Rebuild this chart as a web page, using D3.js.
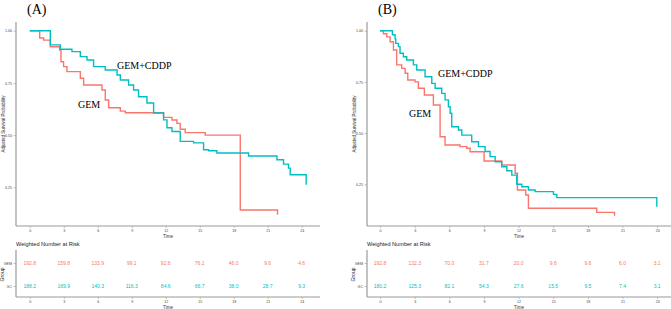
<!DOCTYPE html>
<html>
<head>
<meta charset="utf-8">
<script src="https://cdn.jsdelivr.net/npm/d3@7"></script>
<style>
  body { margin: 0; background: #fff; }
  svg { display: block; }
</style>
</head>
<body>
<div id="chart"></div>
<script>
// Panel A survival curves (time in months, adjusted survival)
const timeA_gc  = [0, 1.81, 2.69, 3.72, 4.46, 5.05, 5.63, 6.66, 7.70, 7.99, 8.72, 9.16, 9.60, 10.34, 10.93, 11.81, 12.11, 12.55, 13.28, 14.46, 15.34, 15.78, 16.52, 19.31, 21.82, 22.40, 22.84, 22.99, 24.40];
const survA_gc  = [1.0, 0.932, 0.911, 0.90, 0.876, 0.86, 0.828, 0.812, 0.788, 0.764, 0.74, 0.716, 0.684, 0.654, 0.606, 0.573, 0.535, 0.517, 0.47, 0.463, 0.43, 0.425, 0.414, 0.40, 0.382, 0.361, 0.342, 0.31, 0.262];
const timeA_gem = [0, 0.87, 1.22, 1.81, 2.63, 2.75, 2.98, 3.28, 4.46, 4.75, 6.37, 6.66, 6.96, 7.99, 8.43, 11.81, 12.55, 12.99, 13.28, 13.72, 15.49, 18.58, 21.87];
const survA_gem = [1.0, 0.965, 0.955, 0.923, 0.907, 0.851, 0.828, 0.804, 0.772, 0.74, 0.716, 0.668, 0.631, 0.615, 0.607, 0.585, 0.572, 0.556, 0.528, 0.512, 0.50, 0.141, 0.118];

// Panel B survival curves
const timeB_gc  = [0, 1.07, 1.30, 1.36, 1.59, 1.73, 2.02, 2.31, 2.89, 3.18, 3.90, 4.48, 4.77, 5.34, 5.63, 5.92, 6.07, 6.21, 6.79, 7.08, 7.94, 8.52, 9.10, 9.53, 9.97, 10.54, 10.98, 11.41, 11.84, 12.28, 12.85, 13.43, 15.02, 15.31, 23.97];
const survB_gc  = [1.0, 0.98, 0.96, 0.938, 0.922, 0.89, 0.873, 0.857, 0.833, 0.808, 0.775, 0.743, 0.719, 0.694, 0.662, 0.629, 0.597, 0.531, 0.515, 0.49, 0.458, 0.434, 0.41, 0.385, 0.36, 0.336, 0.316, 0.295, 0.25, 0.238, 0.222, 0.214, 0.201, 0.185, 0.14];
const timeB_gem = [0, 0.29, 0.58, 0.87, 1.16, 1.44, 1.88, 2.17, 2.40, 3.03, 3.32, 3.84, 4.62, 5.20, 5.63, 6.93, 7.51, 7.80, 9.01, 10.54, 11.70, 11.90, 12.62, 12.85, 18.77, 20.31];
const survB_gem = [1.0, 0.985, 0.97, 0.946, 0.906, 0.833, 0.816, 0.792, 0.759, 0.75, 0.719, 0.686, 0.637, 0.482, 0.442, 0.434, 0.426, 0.409, 0.364, 0.344, 0.304, 0.222, 0.198, 0.133, 0.113, 0.097];

// Weighted number at risk table
const riskTimes = [0, 3, 6, 9, 12, 15, 18, 21, 24];
const groups = ["GEM", "GC"];
const riskA_gem = ["192.8", "159.8", "133.9", "99.1", "92.6", "76.1", "46.0", "9.6", "4.6"];
const riskA_gc  = ["188.2", "169.9", "140.3", "116.3", "84.6", "66.7", "38.0", "28.7", "9.3"];
const riskB_gem = ["192.8", "132.3", "70.0", "31.7", "20.0", "9.6", "9.6", "6.0", "3.1"];
const riskB_gc  = ["180.2", "125.3", "82.1", "54.3", "27.6", "15.5", "9.5", "7.4", "3.1"];
const yTicks = [0.25, 0.50, 0.75, 1.00];

const colGem = "#F8766D", colGc = "#00BFC4", axisCol = "#9a9a9a";
const W = 671, H = 309;

const svg = d3.select("#chart").append("svg")
  .attr("width", W).attr("height", H)
  .style("font-family", "'Liberation Sans', Arial, sans-serif");

function panel(p) {
  const g = svg.append("g");
  const x = d3.scaleLinear().domain(p.xDomain).range([p.left, p.right]);
  const y = d3.scaleLinear().domain([0.25, 1]).range([p.y025, p.y100]);

  // panel letter
  g.append("text").attr("x", p.left + 11).attr("y", 14)
    .style("font-family", "'Liberation Serif', 'Times New Roman', serif")
    .style("font-size", "14px").text(p.tag);

  // survival axes
  const yAx = g.append("g").attr("transform", `translate(${p.left},0)`)
    .call(d3.axisLeft(y).tickValues(yTicks).tickFormat(d3.format(".2f")).tickSize(2.5).tickPadding(1.5));
  const xAx = g.append("g").attr("transform", `translate(0,${p.bottom})`)
    .call(d3.axisBottom(x).tickValues(riskTimes).tickSize(2).tickPadding(1));
  [yAx, xAx].forEach(a => {
    a.select(".domain").remove();
    a.selectAll("line").attr("stroke", axisCol).attr("stroke-width", 0.6);
    a.selectAll("text").attr("fill", "#444").style("font-size", "3.6px");
  });
  g.append("line").attr("x1", p.left).attr("x2", p.left).attr("y1", p.top).attr("y2", p.bottom)
    .attr("stroke", axisCol).attr("stroke-width", 1.2);
  g.append("line").attr("x1", p.left).attr("x2", p.right).attr("y1", p.bottom).attr("y2", p.bottom)
    .attr("stroke", axisCol).attr("stroke-width", 1.2);
  g.append("text").attr("x", (p.left + p.right) / 2).attr("y", p.bottom + 11.5)
    .attr("text-anchor", "middle").style("font-size", "4.5px").attr("fill", "#333").text("Time");
  g.append("text").attr("transform", `translate(${p.left - 11},${(p.top + p.bottom) / 2}) rotate(-90)`)
    .attr("text-anchor", "middle").style("font-size", "4.5px").attr("fill", "#333")
    .text("Adjusted Survival Probability");

  // step curves
  const line = d3.line().curve(d3.curveStepAfter).x(d => x(d[0])).y(d => y(d[1]));
  [[p.tGem, p.sGem, colGem], [p.tGc, p.sGc, colGc]].forEach(([t, s, c]) => {
    g.append("path").datum(d3.zip(t, s))
      .attr("fill", "none").attr("stroke", c).attr("stroke-width", 1.4)
      .attr("d", line);
  });

  // curve labels
  const serif = "'Liberation Serif', 'Times New Roman', serif";
  g.append("text").attr("x", p.lab1[0]).attr("y", p.lab1[1])
    .style("font-family", serif).style("font-size", "10px").text("GEM+CDDP");
  g.append("text").attr("x", p.lab2[0]).attr("y", p.lab2[1])
    .style("font-family", serif).style("font-size", "10px").text("GEM");

  // risk table
  const rt = 250, rb = 297;
  const ry = d3.scalePoint().domain(groups).range([263, 286]);
  g.append("text").attr("x", p.left).attr("y", 246)
    .style("font-size", "5.6px").attr("fill", "#222").text("Weighted Number at Risk");
  const ryAx = g.append("g").attr("transform", `translate(${p.left},0)`)
    .call(d3.axisLeft(ry).tickSize(2.5).tickPadding(1.5));
  const rxAx = g.append("g").attr("transform", `translate(0,${rb})`)
    .call(d3.axisBottom(x).tickValues(riskTimes).tickSize(2).tickPadding(1));
  [ryAx, rxAx].forEach(a => {
    a.select(".domain").remove();
    a.selectAll("line").attr("stroke", axisCol).attr("stroke-width", 0.6);
    a.selectAll("text").attr("fill", "#444").style("font-size", "3.6px");
  });
  g.append("line").attr("x1", p.left).attr("x2", p.left).attr("y1", rt).attr("y2", rb)
    .attr("stroke", axisCol).attr("stroke-width", 1.2);
  g.append("line").attr("x1", p.left).attr("x2", p.right).attr("y1", rb).attr("y2", rb)
    .attr("stroke", axisCol).attr("stroke-width", 1.2);
  g.append("text").attr("x", (p.left + p.right) / 2).attr("y", rb + 11.5)
    .attr("text-anchor", "middle").style("font-size", "4.5px").attr("fill", "#333").text("Time");
  g.append("text").attr("transform", `translate(${p.left - 12},${(263 + 286) / 2}) rotate(-90)`)
    .attr("text-anchor", "middle").style("font-size", "5px").attr("fill", "#222").text("Group");

  [[p.rGem, "GEM", colGem], [p.rGc, "GC", colGc]].forEach(([vals, grp, c]) => {
    g.append("g").selectAll("text").data(vals).join("text")
      .attr("x", (d, i) => x(riskTimes[i])).attr("y", ry(grp)).attr("dy", "0.35em")
      .attr("text-anchor", "middle").attr("fill", c).style("font-size", "5px")
      .text(d => d);
  });
}

panel({
  tag: "(A)", left: 16, right: 320, top: 22, bottom: 226, xDomain: [-1.22, 25.62],
  y100: 30.7, y025: 187.3,
  tGem: timeA_gem, sGem: survA_gem, tGc: timeA_gc, sGc: survA_gc,
  lab1: [117, 69], lab2: [78, 108],
  rGem: riskA_gem, rGc: riskA_gc
});
panel({
  tag: "(B)", left: 367, right: 671, top: 22, bottom: 226, xDomain: [-1.13, 25.2],
  y100: 30.7, y025: 184.3,
  tGem: timeB_gem, sGem: survB_gem, tGc: timeB_gc, sGc: survB_gc,
  lab1: [438, 77], lab2: [409, 117],
  rGem: riskB_gem, rGc: riskB_gc
});
</script>
</body>
</html>
